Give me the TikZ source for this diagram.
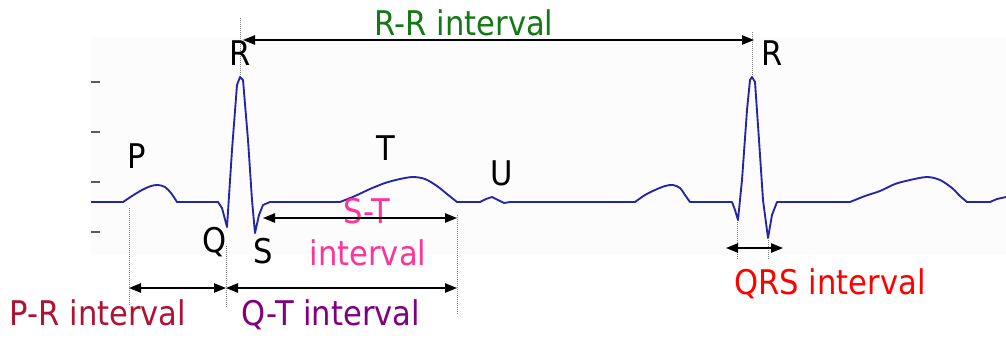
\documentclass[tikz,border=0pt]{standalone}
\usepackage{fontspec}
\setmainfont{DejaVu Sans}[FakeStretch=0.9]
\usetikzlibrary{arrows.meta}
\definecolor{wave}{RGB}{38,38,165}
\definecolor{rrgreen}{RGB}{20,120,20}
\definecolor{prred}{RGB}{175,18,50}
\definecolor{qtpurple}{RGB}{128,0,128}
\definecolor{stpink}{RGB}{255,51,153}
\definecolor{qrsred}{RGB}{255,0,0}
\definecolor{tickgray}{RGB}{90,90,90}
\definecolor{panel}{RGB}{252,252,252}
\tikzset{
  lbl/.style={anchor=base, inner sep=0pt, font=\fontsize{25.5}{30}\selectfont},
  dimarrow/.style={line width=1.1pt, black, {Triangle[length=9pt,width=7pt]}-{Triangle[length=9pt,width=7pt]}},
  guide/.style={line width=0.6pt, gray, dash pattern=on 0.75pt off 0.75pt},
  ecg/.style={line width=1.4pt, wave, line join=round},
  tickmark/.style={line width=1.2pt, tickgray}
}
\begin{document}
\begin{tikzpicture}[x=0.75pt,y=-0.75pt]
\useasboundingbox (0,0) rectangle (1006,337);
\fill[white] (0,0) rectangle (1006,337);
\fill[panel] (91,38) rectangle (1006,255);
% ticks
\foreach \ty in {82,132,182,232} \draw[tickmark] (91,\ty) -- (100,\ty);
% waveform
\draw[ecg] (91,202) -- (123,202)
  -- plot[smooth] coordinates {(123,202) (132,196) (142,190) (151,186) (158,185) (165,187) (171,193) (177,202)}
  -- (218,202) -- (222,208) -- (227,227) -- (232,150) -- (237,85) -- (240,77) -- (243,80)
  -- (248,140) -- (252,200) -- (255,233) -- (259,215) -- (263,205) -- (270,202) -- (340,202)
  -- plot[smooth] coordinates {(340,202) (355,196) (370,189) (385,183) (400,179) (413,177) (425,179) (437,186) (447,194) (457,202)}
  -- (480,202) -- (486,199) -- (492,197) -- (498,200) -- (504,203) -- (510,202) -- (635,202)
  -- plot[smooth] coordinates {(635,202) (645,195) (655,190) (665,186) (673,185) (680,188) (685,195) (690,202)}
  -- (732,202) -- (735,210) -- (738,220) -- (742,180) -- (747,110) -- (750,80) -- (752,77) -- (755,82)
  -- (759,140) -- (763,200) -- (768,238) -- (772,215) -- (777,202) -- (850,202)
  -- plot[smooth] coordinates {(850,202) (865,196) (880,191) (895,184) (910,180) (927,177) (940,180) (952,188) (960,196) (967,202)}
  -- (990,202) -- (997,199) -- (1006,197);
% named reference points
\coordinate (r1top) at (240,18);
\coordinate (r1pk) at (240,76);
\coordinate (r2top) at (752,32);
\coordinate (r2pk) at (752,76);
\coordinate (rra) at (243,40);
\coordinate (rrb) at (754,40);
\coordinate (ptop) at (129,208);
\coordinate (pbot) at (129,306);
\coordinate (qtop) at (226,246);
\coordinate (qbot) at (226,308);
\coordinate (ttop) at (457,215);
\coordinate (tbot) at (457,315);
\coordinate (qrsq) at (737,222);
\coordinate (qrsqb) at (737,260);
\coordinate (qrss) at (768,238);
\coordinate (qrssb) at (768,260);
\coordinate (pra) at (129,288);
\coordinate (prb) at (226,288);
\coordinate (qtb) at (457,288);
\coordinate (sta) at (263,218);
\coordinate (stb) at (457,218);
\coordinate (qrsa) at (726,248);
\coordinate (qrsb) at (783,248);
% guides
\draw[guide] (r1top) -- (r1pk);
\draw[guide] (r2top) -- (r2pk);
\draw[guide] (ptop) -- (pbot);
\draw[guide] (qtop) -- (qbot);
\draw[guide] (ttop) -- (tbot);
\draw[guide] (qrsq) -- (qrsqb);
\draw[guide] (qrss) -- (qrssb);
% labels
\node[lbl, rrgreen] (rrlbl) at (464,35) {R-R interval};
\node[lbl] (R1) at (240,65) {R};
\node[lbl] (R2) at (772,65) {R};
\node[lbl] (P) at (137,168) {P};
\node[lbl] (T) at (386,160) {T};
\node[lbl] (U) at (502,185) {U};
\node[lbl] (Q) at (215,252) {Q};
\node[lbl] (S) at (263,263) {S};
\node[lbl, stpink] (stlbl) at (367,223) {S-T};
\node[lbl, stpink] (stlbl2) at (368,265) {interval};
\node[lbl, prred] (prlbl) at (98,325) {P-R interval};
\node[lbl, qtpurple] (qtlbl) at (331,325) {Q-T interval};
\node[lbl, qrsred] (qrslbl) at (830,294) {QRS interval};
% arrows
\draw[dimarrow] (rra) -- (rrb);
\draw[dimarrow] (pra) -- (prb);
\draw[dimarrow] (prb) -- (qtb);
\draw[dimarrow] (sta) -- (stb);
\draw[dimarrow] (qrsa) -- (qrsb);
\end{tikzpicture}
\end{document}
